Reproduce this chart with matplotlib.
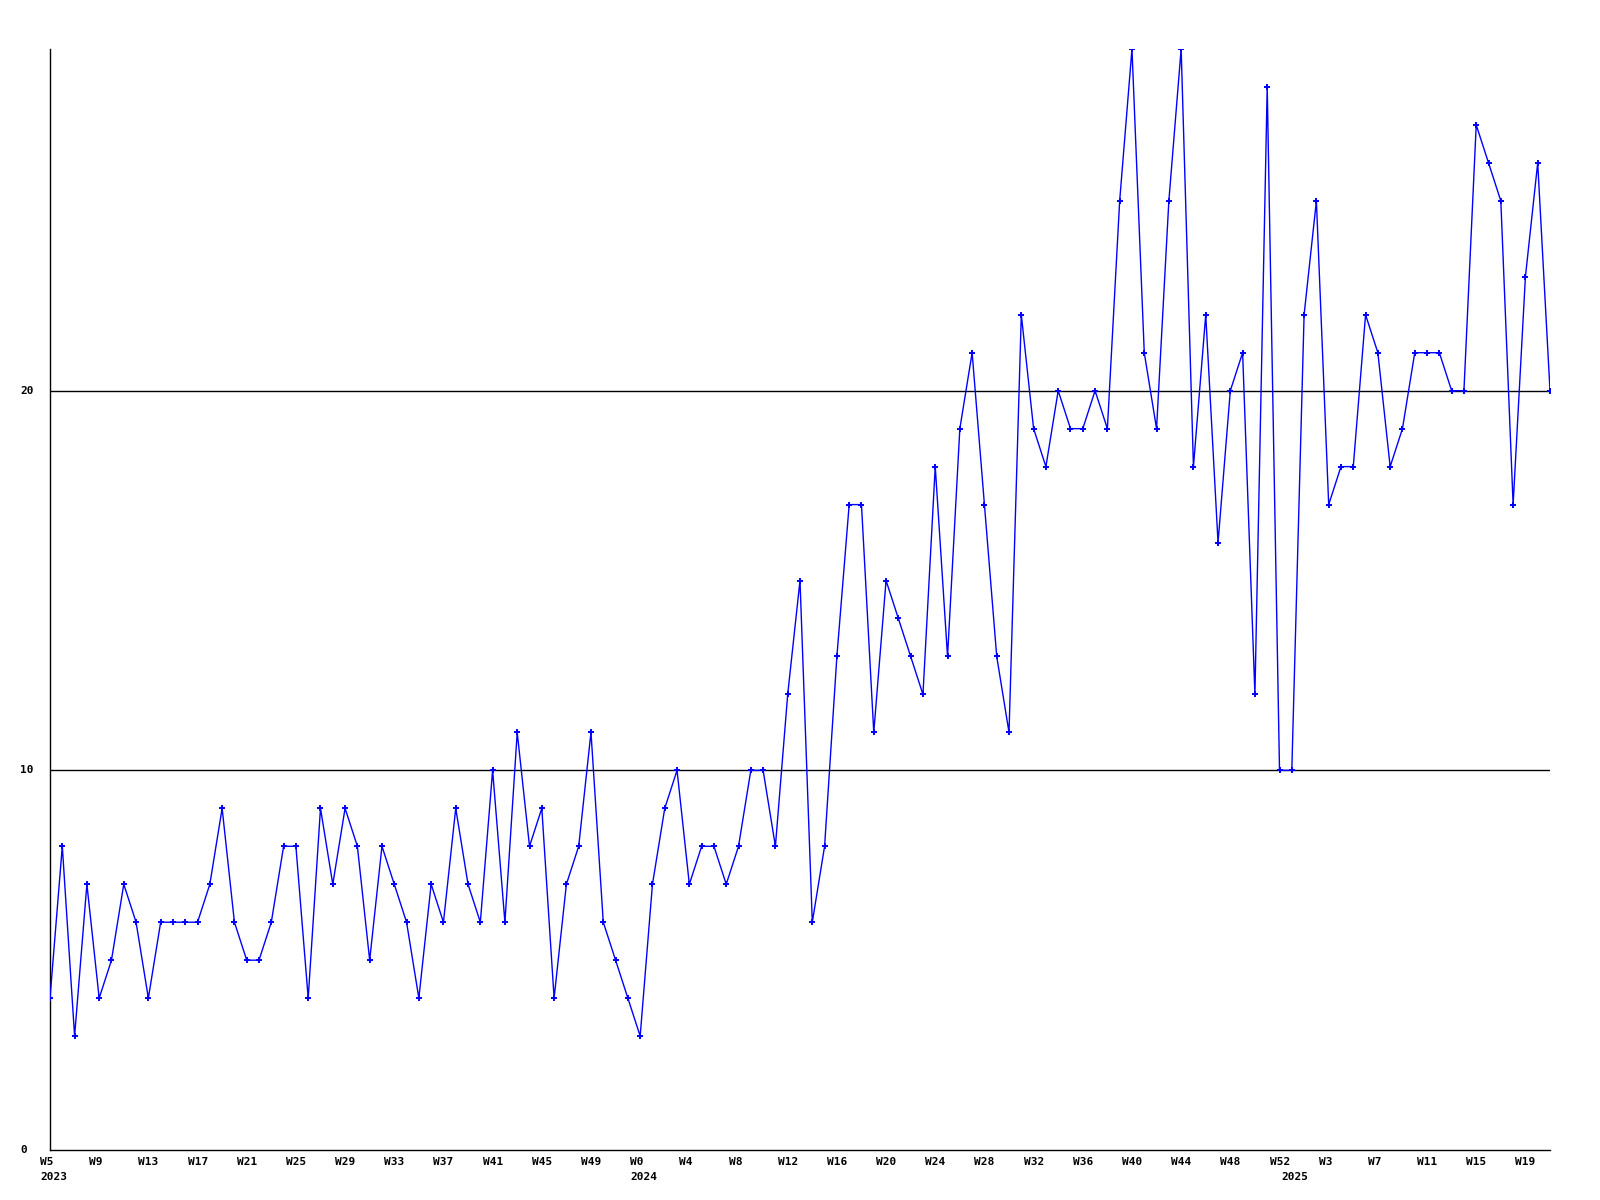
import matplotlib
matplotlib.use("Agg")
import matplotlib.pyplot as plt
import matplotlib.transforms as mtransforms

# --- data -------------------------------------------------------------
weeks_2023 = list(range(5, 53))      # W5 .. W52
weeks_2024 = list(range(0, 53))      # W0 .. W52
weeks_2025 = list(range(0, 22))      # W0 .. W21
years = ["2023", "2024", "2025"]

values = [
    4, 8, 3, 7, 4, 5, 7, 6, 4, 6, 6, 6, 6, 7, 9, 6, 5, 5, 6, 8, 8, 4, 9, 7, 9, 8, 5, 8, 7,
    6, 4, 7, 6, 9, 7, 6, 10, 6, 11, 8, 9, 4, 7, 8, 11, 6, 5, 4, 3, 7, 9, 10, 7, 8, 8, 7, 8, 10, 10, 8,
    12, 15, 6, 8, 13, 17, 17, 11, 15, 14, 13, 12, 18, 13,
    19, 21, 17, 13, 11, 22, 19, 18, 20, 19, 19, 20, 19, 25, 29, 21, 19, 25, 29, 18, 22, 16, 20, 21, 12, 28, 10, 10,
    22, 25, 17, 18, 18, 22, 21, 18, 19, 21, 21, 21, 20, 20, 27, 26, 25, 17, 23, 26, 20,
]
y_ticks = [0, 10, 20]

# --- build labels -----------------------------------------------------
week_labels = ["W%d" % w for w in weeks_2023 + weeks_2024 + weeks_2025]
year_starts = [0, len(weeks_2023), len(weeks_2023) + len(weeks_2024)]
x = list(range(len(values)))

font = dict(family="DejaVu Sans Mono", fontweight="bold", fontsize=8)

fig = plt.figure(figsize=(16, 12), dpi=100)
ax = fig.add_axes([50 / 1600, 1 - 1150 / 1200, 1500 / 1600, (1150 - 49) / 1200])

for yv in y_ticks[1:]:
    ax.axhline(yv, color="black", lw=1.0, zorder=1)

ax.plot(x, values, color="#0000ff", lw=1.0, marker="+", markersize=4,
        markeredgewidth=1.4, zorder=3)

ax.set_xlim(0, len(values) - 1)
ax.set_ylim(0, 29)
for s in ("top", "right"):
    ax.spines[s].set_visible(False)
for s in ("left", "bottom"):
    ax.spines[s].set_color("black")
    ax.spines[s].set_linewidth(1.0)

ax.set_xticks([])
ax.set_yticks([])

# y labels, left-aligned near the figure edge
ytrans = mtransforms.blended_transform_factory(fig.transFigure, ax.transData)
for v in y_ticks:
    ax.text(20 / 1600, v, str(v), transform=ytrans, ha="left", va="center",
            clip_on=False, **font)

# x labels, left-aligned 10 px left of each tick
shift = mtransforms.ScaledTranslation(-10 / 100, 0, fig.dpi_scale_trans)
xtrans = mtransforms.blended_transform_factory(ax.transData, ax.transAxes) + shift
for i in range(0, len(values), 4):
    ax.text(i, -0.0109, week_labels[i], transform=xtrans, ha="left", va="center",
            clip_on=False, **font)
for yr, i in zip(years, year_starts):
    ax.text(i, -0.0245, yr, transform=xtrans, ha="left", va="center",
            clip_on=False, **font)

fig.savefig("out.png", dpi=100)
